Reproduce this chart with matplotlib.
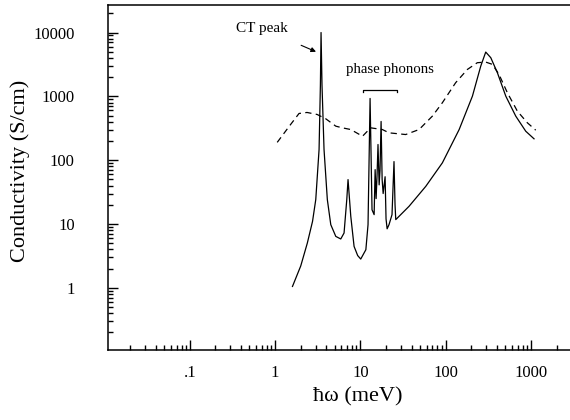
import matplotlib
matplotlib.use("Agg")
import matplotlib.pyplot as plt
from matplotlib.ticker import FixedLocator, FixedFormatter, LogLocator, NullFormatter

# solid curve (photon energy in meV, conductivity in S/cm)
solid_x = [1.60, 2.0, 2.39, 2.75, 3.00, 3.28, 3.40, 3.46, 3.55, 3.75, 4.10,
           4.50, 5.15, 5.89, 6.44, 6.93, 7.17, 7.72, 8.44, 9.3, 10.1, 11.6,
           12.3, 13.0, 13.7, 14.5, 14.9, 15.3, 15.7, 16.1, 16.6, 17.0, 17.5,
           18.0, 18.5, 19.5, 20.0, 20.6, 21.7, 23.5, 24.8, 25.5, 26.0, 37.2,
           58.5, 91.5, 144, 206, 258, 295, 338, 404, 507, 664, 869, 1087]
solid_y = [1.05, 2.2, 5.03, 11, 24.1, 147, 1500, 10000, 1500, 147, 24.1,
           9.75, 6.39, 5.82, 7.22, 24.1, 49.6, 13.2, 4.45, 3.2, 2.82, 3.95,
           9.75, 927, 16.7, 14, 71, 25, 59, 176, 41, 70, 404,
           50, 30, 55, 12, 8.4, 9.8, 14, 95, 20, 11.7, 18.9,
           38.9, 90.7, 302, 1007, 2980, 4940, 4036, 2349, 1007, 489, 284, 216]

# dashed curve
dash_x = [1.06, 1.46, 1.91, 2.37, 3.11, 3.93, 5.15, 6.15, 7.71, 10.6, 13.2,
          18.1, 21.7, 34.0, 48.8, 69.8, 91.5, 131, 180, 235, 295, 353, 422,
          529, 693, 908, 1138]
dash_y = [190, 337, 539, 559, 520, 445, 341, 321, 302, 237, 321,
          302, 268, 252, 302, 489, 794, 1636, 2643, 3365, 3444, 3170, 2208,
          1140, 586, 385, 295]

x_ticks = [0.1, 1, 10, 100, 1000]
x_labels = [".1", "1", "10", "100", "1000"]
y_ticks = [1, 10, 100, 1000, 10000]
y_labels = ["1", "10", "100", "1000", "10000"]

serif = ["Liberation Serif", "DejaVu Serif"]
plt.rcParams["font.family"] = serif

fig = plt.figure(figsize=(5.7, 4.2), dpi=100)
ax = fig.add_axes([0.1895, 0.1667, 0.8105, 0.8214])

ax.plot(solid_x, solid_y, color="black", lw=0.9)
ax.plot(dash_x, dash_y, color="black", lw=0.9, dashes=(5, 3.5))

ax.set_xscale("log")
ax.set_yscale("log")
ax.set_xlim(0.011, 2870)
ax.set_ylim(0.106, 27000)

ax.xaxis.set_major_locator(FixedLocator(x_ticks))
ax.xaxis.set_major_formatter(FixedFormatter(x_labels))
ax.yaxis.set_major_locator(FixedLocator(y_ticks))
ax.yaxis.set_major_formatter(FixedFormatter(y_labels))
ax.xaxis.set_minor_locator(LogLocator(base=10, subs=range(2, 10), numticks=20))
ax.yaxis.set_minor_locator(LogLocator(base=10, subs=range(2, 10), numticks=20))
ax.xaxis.set_minor_formatter(NullFormatter())
ax.yaxis.set_minor_formatter(NullFormatter())

ax.tick_params(which="both", direction="in", top=False, right=False,
               labelsize=12, width=1.0)
ax.tick_params(which="major", length=7)
ax.tick_params(which="minor", length=3.5)
ax.tick_params(axis="y", which="major", pad=24)
ax.tick_params(axis="x", which="major", pad=11)

ax.spines["right"].set_visible(False)
for side in ["left", "bottom", "top"]:
    ax.spines[side].set_linewidth(1.1)

ax.text(0.541, -0.136, "ħω (meV)", transform=ax.transAxes, ha="center",
        va="center", fontsize=16)
ax.text(-0.19, 0.52, "Conductivity (S/cm)", transform=ax.transAxes,
        ha="center", va="center", rotation=90, fontsize=16)

ax.annotate("CT peak", xy=(3.02, 5000), xytext=(0.70, 11650),
            ha="center", va="center", fontsize=11,
            arrowprops=dict(arrowstyle="-|>", color="black", lw=0.8,
                            mutation_scale=7, shrinkA=14, shrinkB=0))

ax.text(22.3, 2650, "phase phonons", ha="center", va="center", fontsize=10.7)
ax.plot([10.8, 10.8, 26.7, 26.7], [1150, 1250, 1250, 1150], color="black",
        lw=0.9)

fig.savefig("out.png", dpi=100)
